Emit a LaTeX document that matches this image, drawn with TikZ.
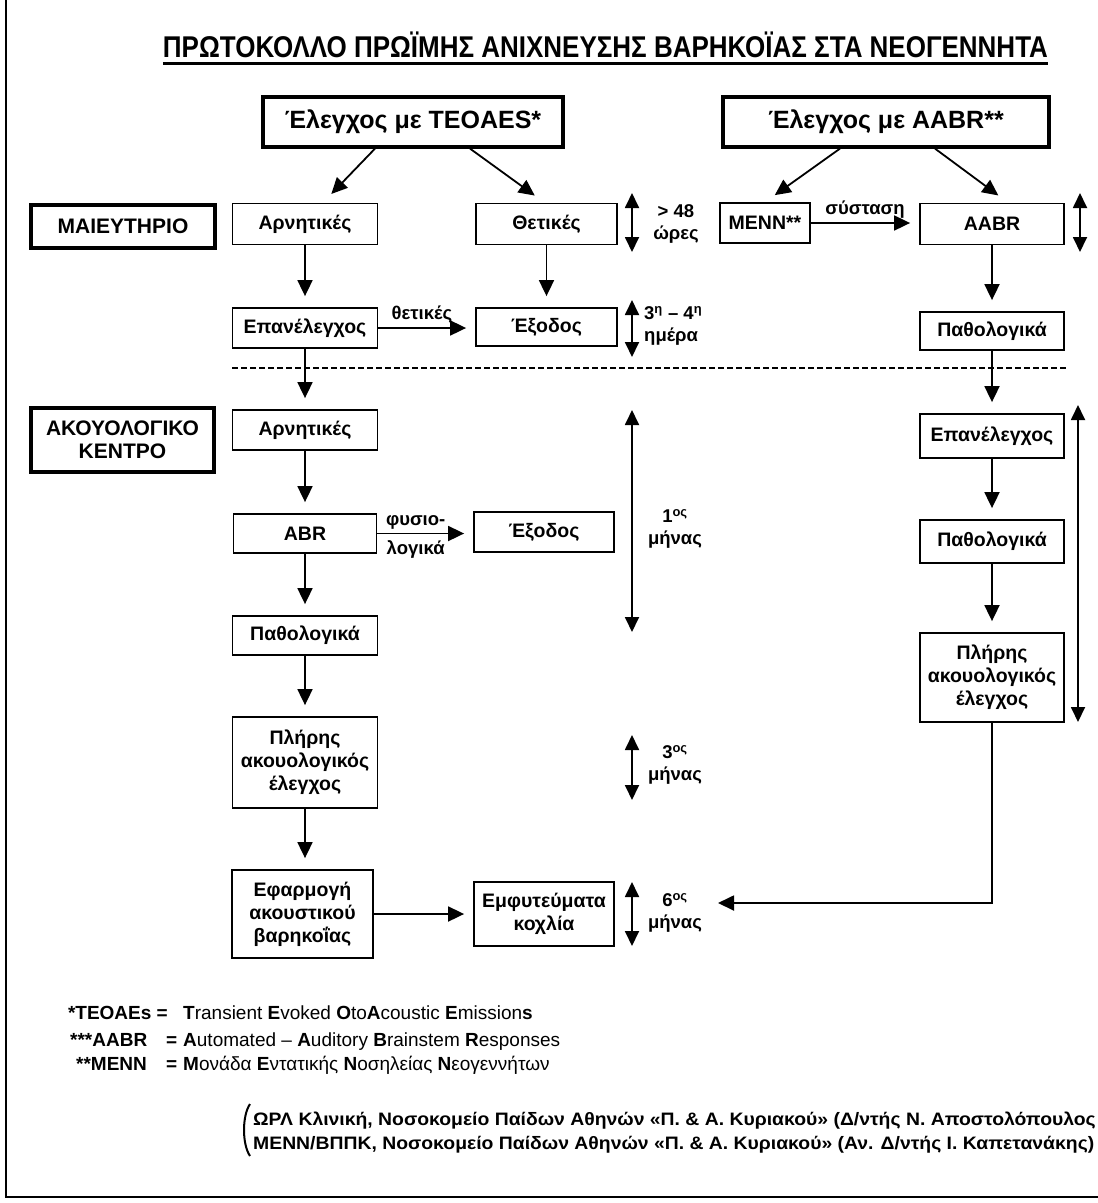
\documentclass[tikz,border=0pt]{standalone}
\usepackage{fontspec}
\setmainfont{Liberation Sans}
\usepackage{graphicx}
\usetikzlibrary{arrows.meta}

\newcommand\creditfont{\fontsize{18}{24}\selectfont\bfseries}
\newcommand\creditA{ΩΡΛ Κλινική, Νοσοκομείο Παίδων Αθηνών «Π. \& Α. Κυριακού» (Δ/ντής Ν. Αποστολόπουλος}
\newcommand\creditB{ΜΕΝΝ/ΒΠΠΚ, Νοσοκομείο Παίδων Αθηνών «Π. \& Α. Κυριακού» (Αν. Δ/ντής Ι. Καπετανάκης)}
\newlength\creditwd

\begin{document}
% horizontal squeeze so that the second credit line is 841pt wide
\settowidth\creditwd{\creditfont\creditB}
\pgfmathsetmacro\creditsqueeze{841/\creditwd}
\begin{tikzpicture}[x=1pt,y=-1pt,
  lbl/.style={font=\bfseries\fontsize{18.5}{22}\selectfont, align=center, inner sep=1pt},
  box/.style={draw, line width=1.8pt, font=\bfseries\fontsize{19.5}{23}\selectfont,
    align=center, inner sep=0pt, minimum width=145pt, minimum height=41pt},
  headbox/.style={draw, line width=3.2pt, font=\bfseries\fontsize{25}{28}\selectfont,
    inner sep=0pt, minimum height=50pt},
  placebox/.style={draw, line width=3.2pt, font=\bfseries\fontsize{21}{25}\selectfont,
    align=center, inner sep=0pt, minimum width=184pt},
  arr/.style={line width=1.8pt, -{Triangle[length=16pt,width=15pt]}, shorten >=11pt},
  harr/.style={arr, shorten >=9pt},
  span/.style={line width=1.8pt,
    {Triangle[length=15pt,width=14pt]}-{Triangle[length=15pt,width=14pt]}},
  legend/.style={font=\fontsize{19}{22}\selectfont, inner sep=0pt, anchor=base west},
]
\fill[white] (0,0) rectangle (1098,1203);
\useasboundingbox (0,0) rectangle (1098,1203);

% page frame
\draw[line width=1.5pt] (6,0) -- (6,1197) -- (1098,1197);

% title
\node[anchor=base, inner sep=0pt] (title) at (605.5,57)
  {\resizebox{885pt}{\height}{\fontsize{30}{30}\selectfont\bfseries
   ΠΡΩΤΟΚΟΛΛΟ ΠΡΩΪΜΗΣ ΑΝΙΧΝΕΥΣΗΣ ΒΑΡΗΚΟΪΑΣ ΣΤΑ ΝΕΟΓΕΝΝΗΤΑ}};
\draw[line width=3pt] ([yshift=-6pt]title.base west) -- ([yshift=-6pt]title.base east);

% screening methods
\node[headbox, minimum width=300pt] (teoaes) at (413,122) {Έλεγχος με TEOAES*};
\node[headbox, minimum width=326pt] (aabr) at (886,122) {Έλεγχος με AABR**};

% places
\node[placebox, minimum height=43pt] (maternity) at (123,226.5) {ΜΑΙΕΥΤΗΡΙΟ};
\node[placebox, minimum width=183pt, minimum height=64pt] (audcentre) at (122.5,440)
  {ΑΚΟΥΟΛΟΓΙΚΟ\\[-2pt]ΚΕΝΤΡΟ};

% maternity stage
\node[box] (neg1) at (305,224) {Αρνητικές};
\node[box, minimum width=141pt] (pos1) at (546.5,224) {Θετικές};
\node[box, minimum width=90pt, minimum height=40pt] (menn) at (765,223) {ΜΕΝΝ**};
\node[box, minimum width=144pt] (aabrtest) at (992,224) {AABR};
\node[box, minimum height=40pt] (retest1) at (305,328) {Επανέλεγχος};
\node[box, minimum width=141pt, minimum height=38pt] (exit1) at (546.5,327) {Έξοδος};
\node[box, minimum width=144pt, minimum height=38pt] (pathR1) at (992,331) {Παθολογικά};

% audiology centre stage
\node[box, minimum height=40pt] (neg2) at (305,430) {Αρνητικές};
\node[box, minimum width=143pt, minimum height=39pt] (abr) at (305,533.5) {ABR};
\node[box, minimum width=140pt, minimum height=40pt] (exit2) at (544,532) {Έξοδος};
\node[box, minimum height=39pt] (pathL) at (305,635.5) {Παθολογικά};
\node[box, minimum height=91pt] (fullL) at (305,762.5) {Πλήρης\\ακουολογικός\\έλεγχος};
\node[box, minimum width=141pt, minimum height=88pt] (aid) at (302.5,914)
  {Εφαρμογή\\ακουστικού\\βαρηκοΐας};
\node[box, minimum width=140pt, minimum height=64pt] (implant) at (544,914)
  {Εμφυτεύματα\\κοχλία};
\node[box, minimum width=144pt, minimum height=44pt] (retestR) at (992,436) {Επανέλεγχος};
\node[box, minimum width=144pt, minimum height=43pt] (pathR2) at (992,541.5) {Παθολογικά};
\node[box, minimum width=144pt, minimum height=89pt] (fullR) at (992,677.5)
  {Πλήρης\\ακουολογικός\\έλεγχος};

% stage separator
\draw[line width=2pt, dash pattern=on 6pt off 3pt] (232,368) -- (1068,368);

% branching from the screening tests
\draw[arr, shorten >=12pt] ([xshift=-38pt]teoaes.south) -- ([xshift=18pt]neg1.north);
\draw[arr, shorten >=12pt] ([xshift=57pt]teoaes.south) -- ([xshift=-2pt]pos1.north);
\draw[arr, shorten >=12pt] ([xshift=-46pt]aabr.south) -- (menn.north);
\draw[arr, shorten >=12pt] ([xshift=49pt]aabr.south) -- ([xshift=16pt]aabrtest.north);

% vertical flow
\draw[arr] (neg1) -- (retest1);
\draw[arr] (pos1) -- (exit1);
\draw[arr] (aabrtest) -- (pathR1);
\draw[arr] (retest1) -- (neg2);
\draw[arr] (pathR1) -- (retestR);
\draw[arr] (neg2) -- (abr);
\draw[arr] (abr) -- (pathL);
\draw[arr] (pathL) -- (fullL);
\draw[arr] (fullL.south) -- (fullL.south |- aid.north);
\draw[arr] (retestR) -- (pathR2);
\draw[arr] (pathR2) -- (fullR);

% horizontal flow
\draw[harr] (menn.east) -- (menn.east -| aabrtest.west)
  node[lbl, midway, above=3pt] {σύσταση};
\draw[harr] (retest1.east) -- (retest1.east -| exit1.west)
  node[lbl, pos=0.45, above=3pt] {θετικές};
\draw[harr] (abr.east) -- (abr.east -| exit2.west)
  node[lbl, pos=0.4, above=2pt] {φυσιο-}
  node[lbl, pos=0.4, below=5pt] {λογικά};
\draw[harr] (aid.east) -- (aid.east -| implant.west);

% feedback from the NICU branch to implants
\coordinate (implantin) at (718,903);
\draw[arr, shorten >=0pt] (fullR.south) |- (implantin);

% time spans
\coordinate (s1t) at (632,193);  \coordinate (s1b) at (632,252);
\coordinate (s2t) at (632,300);  \coordinate (s2b) at (632,357);
\coordinate (s3t) at (632,410);  \coordinate (s3b) at (632,632);
\coordinate (s4t) at (632,735);  \coordinate (s4b) at (632,800);
\coordinate (s5t) at (632,882);  \coordinate (s5b) at (632,946);
\coordinate (s6t) at (1080,193); \coordinate (s6b) at (1080,252);
\coordinate (s7t) at (1078,405); \coordinate (s7b) at (1078,722);
\foreach \s in {1,...,7} \draw[span] (s\s t) -- (s\s b);

\node[lbl] (t1) at (676,224) {> 48\\ώρες};
\node[lbl, align=left, anchor=west] (t2) at (643,326) {3\textsuperscript{η} – 4\textsuperscript{η}\\ημέρα};
\node[lbl] (t3) at (675,529) {1\textsuperscript{ος}\\μήνας};
\node[lbl] (t4) at (675,765) {3\textsuperscript{ος}\\μήνας};
\node[lbl] (t5) at (675,913) {6\textsuperscript{ος}\\μήνας};

% abbreviations
\node[legend, anchor=base east] (k1) at (168,1019) {\bfseries *TEOAEs =};
\node[legend] (v1) at (183,1019)
  {\textbf{T}ransient \textbf{E}voked \textbf{O}to\textbf{A}coustic \textbf{E}mission\textbf{s}};
\node[legend] (k2) at (70,1046) {\bfseries ***AABR};
\node[legend] (e2) at (166,1046) {\bfseries =};
\node[legend] (v2) at (183,1046)
  {\textbf{A}utomated – \textbf{A}uditory \textbf{B}rainstem \textbf{R}esponses};
\node[legend] (k3) at (76,1070) {\bfseries **MENN};
\node[legend] (e3) at (166,1070) {\bfseries =};
\node[legend] (v3) at (183,1070)
  {\textbf{Μ}ονάδα \textbf{Ε}ντατικής \textbf{Ν}οσηλείας \textbf{Ν}εογεννήτων};

% credits
\draw[line width=2pt] (250,1104) .. controls (242,1116) and (242,1144) .. (250,1156);
\node[anchor=base west, inner sep=0pt] (creditone) at (253,1125)
  {\scalebox{\creditsqueeze}[1]{\creditfont\creditA}};
\node[anchor=base west, inner sep=0pt] (credittwo) at (253,1149)
  {\scalebox{\creditsqueeze}[1]{\creditfont\creditB}};
\end{tikzpicture}
\end{document}
